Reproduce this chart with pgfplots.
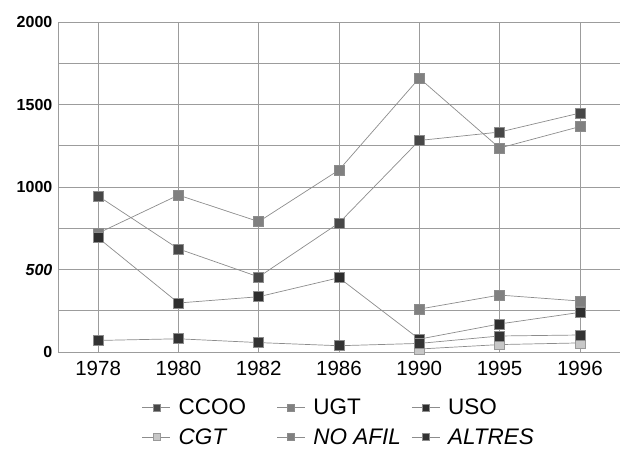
\documentclass[border=0pt]{standalone}
\usepackage{fontspec}
\setmainfont{Liberation Sans}
\usepackage{pgfplots}
\pgfplotsset{compat=1.18}
\definecolor{cline}{HTML}{8C8C8C}
\definecolor{cgrid}{HTML}{9C9C9C}
\newcommand{\lb}[1]{\makebox[102pt][l]{\hspace{6pt}#1}}
\begin{document}
\begin{tikzpicture}
\path[use as bounding box] (0,0) rectangle (622pt,463pt);
\begin{axis}[
  at={(58pt,111pt)}, anchor=south west,
  scale only axis, width=562pt, height=330pt,
  xmin=-0.5, xmax=6.5, ymin=0, ymax=2000,
  axis lines=left, axis line style={cgrid, -},
  xtick={0,...,6},
  xticklabels={1978,1980,1982,1986,1990,1995,1996},
  ytick={0,500,...,2000},
  yticklabels={0,\textit{500},1000,1500,2000},
  minor ytick={250,750,1250,1750},
  grid=both,
  major grid style={cgrid, line width=0.6pt},
  minor grid style={cgrid, line width=0.6pt},
  tick style={draw=none},
  x tick label style={font=\fontsize{20.5}{20.5}\selectfont, yshift=-4pt},
  y tick label style={font=\bfseries\fontsize{16}{16}\selectfont},
  every axis plot/.append style={cline, line width=0.7pt,
    mark=square*, mark size=5pt, mark options={solid, draw=black!60, line width=0.4pt}},
  legend columns=3,
  legend style={at={(0.5,-0.13)}, anchor=north, draw=none, fill=none,
    font=\fontsize{22.5}{22.5}\selectfont, column sep=0pt, row sep=8pt,
    nodes={inner sep=2pt}},
  legend cell align=left,
  legend image code/.code={\draw[mark repeat=2, mark phase=2, #1, mark size=3.5pt]
    plot coordinates {(0pt,0pt) (14pt,0pt) (28pt,0pt)};},
]
% CCOO
\addplot[mark options={fill=black!72}] coordinates {
  (0,945) (1,625) (2,455) (3,782) (4,1282) (5,1333) (6,1448)};
\addlegendentry{\lb{CCOO}}
% UGT
\addplot[mark options={fill=black!50}] coordinates {
  (0,720) (1,951) (2,790) (3,1103) (4,1660) (5,1236) (6,1366)};
\addlegendentry{\lb{UGT}}
% USO
\addplot[mark options={fill=black!82}] coordinates {
  (0,692) (1,297) (2,335) (3,450) (4,78) (5,170) (6,240)};
\addlegendentry{\hspace{6pt}USO}
% CGT
\addplot[mark options={fill=black!22, draw=black!40}] coordinates {
  (4,18) (5,45) (6,55)};
\addlegendentry{\lb{\textit{CGT}}}
% NO AFIL
\addplot[mark options={fill=black!50}] coordinates {
  (4,260) (5,345) (6,309)};
\addlegendentry{\lb{\textit{NO AFIL}}}
% ALTRES
\addplot[mark options={fill=black!80}] coordinates {
  (0,70) (1,80) (2,57) (3,38) (4,52) (5,97) (6,103)};
\addlegendentry{\hspace{6pt}\textit{ALTRES}}
\end{axis}
\end{tikzpicture}
\end{document}
